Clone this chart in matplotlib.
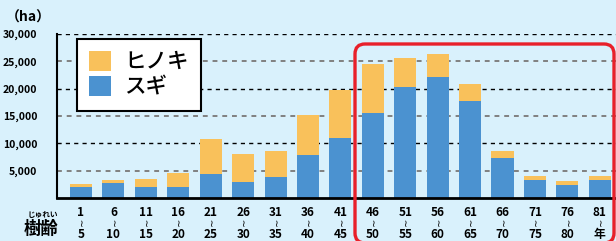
import matplotlib
matplotlib.use("Agg")
import matplotlib.pyplot as plt
from matplotlib.patches import FancyBboxPatch
from matplotlib.transforms import IdentityTransform

plt.rcParams['font.family'] = ['Noto Sans CJK JP', 'DejaVu Sans']

age_top = ["1", "6", "11", "16", "21", "26", "31", "36", "41", "46", "51", "56", "61", "66", "71", "76", "81"]
age_bottom = ["5", "10", "15", "20", "25", "30", "35", "40", "45", "50", "55", "60", "65", "70", "75", "80", "年"]
sugi = [2000, 2750, 2000, 2000, 4400, 2950, 3850, 7850, 11000, 15500, 20300, 22100, 17700, 7300, 3300, 2400, 3300]
hinoki_total = [2600, 3300, 3500, 4600, 10800, 8050, 8600, 15200, 19750, 24500, 25600, 26350, 20850, 8600, 4050, 3100, 4050]
hinoki = [t - s for t, s in zip(hinoki_total, sugi)]
yticks = [5000, 10000, 15000, 20000, 25000, 30000]
ytick_labels = ["5,000", "10,000", "15,000", "20,000", "25,000", "30,000"]

bg = '#d9f1fc'
c_sugi = '#4b92d0'
c_hinoki = '#f9c15b'

fig = plt.figure(figsize=(6.16, 2.41), dpi=100, facecolor=bg)
ax = fig.add_axes([57/616, 1 - 198/241, 1 - 57/616, (198 - 34)/241])
ax.set_facecolor(bg)

x = list(range(len(sugi)))
b1 = ax.bar(x, sugi, width=0.68, color=c_sugi, zorder=3)
b2 = ax.bar(x, hinoki, bottom=sugi, width=0.68, color=c_hinoki, zorder=3)

for v in yticks:
    if v % 10000 == 0:
        ax.axhline(v, color='black', lw=1.0, ls=(0, (3, 3)), zorder=1)
    else:
        ax.axhline(v, color='#808080', lw=1.4, ls=(0, (2.5, 2.5)), zorder=1)

ax.set_xlim(-0.74, 16.5)
ax.set_ylim(0, 30000)
ax.set_yticks(yticks)
ax.set_yticklabels(ytick_labels, fontsize=7.5, fontweight='bold')
ax.tick_params(axis='y', length=0, pad=14)
ax.set_xticks([])
for s in ['top', 'right']:
    ax.spines[s].set_visible(False)
ax.spines['left'].set_linewidth(1.5)
ax.spines['bottom'].set_linewidth(2)
ax.spines['bottom'].set_zorder(4)

# x tick labels (three rows)
trans = ax.get_xaxis_transform()
for i, (a, b) in enumerate(zip(age_top, age_bottom)):
    ax.text(i, -0.09, a, transform=trans, ha='center', va='center', fontsize=8.5, fontweight='bold', clip_on=False)
    ax.text(i, -0.158, "≀", transform=trans, ha='center', va='center', fontsize=7,
            family='DejaVu Sans', clip_on=False)
    ax.text(i, -0.225, b, transform=trans, ha='center', va='center', fontsize=8.5, fontweight='bold', clip_on=False)

fig.text(43/616, 1 - 214/241, "じゅれい", ha='center', va='center', fontsize=5.5, fontweight='bold')
fig.text(41/616, 1 - 229/241, "樹齢", ha='center', va='center', fontsize=12.5, fontweight='bold')
fig.text(28/616, 1 - 18/241, "（ha）", ha='center', va='center', fontsize=10, fontweight='bold')

leg = ax.legend([b2, b1], ["ヒノキ", "スギ"], loc='upper left',
                bbox_to_anchor=(77/616, 1 - 39/241), bbox_transform=fig.transFigure,
                prop={'size': 15.5, 'weight': 'medium'}, frameon=True, fancybox=False, edgecolor='black',
                framealpha=1, handlelength=1.05, handleheight=1.05, handletextpad=0.6,
                labelspacing=0.15, borderpad=0.55, borderaxespad=0)
leg.get_frame().set_linewidth(1.5)
leg.set_zorder(5)

rect = FancyBboxPatch((355, -2), 259, 199, boxstyle="round,pad=0,rounding_size=10",
                      transform=IdentityTransform(), fill=False, edgecolor='#e8202a',
                      lw=2.4, clip_on=False, zorder=10)
fig.patches.append(rect)

fig.savefig("out.png", dpi=100, facecolor=bg)
